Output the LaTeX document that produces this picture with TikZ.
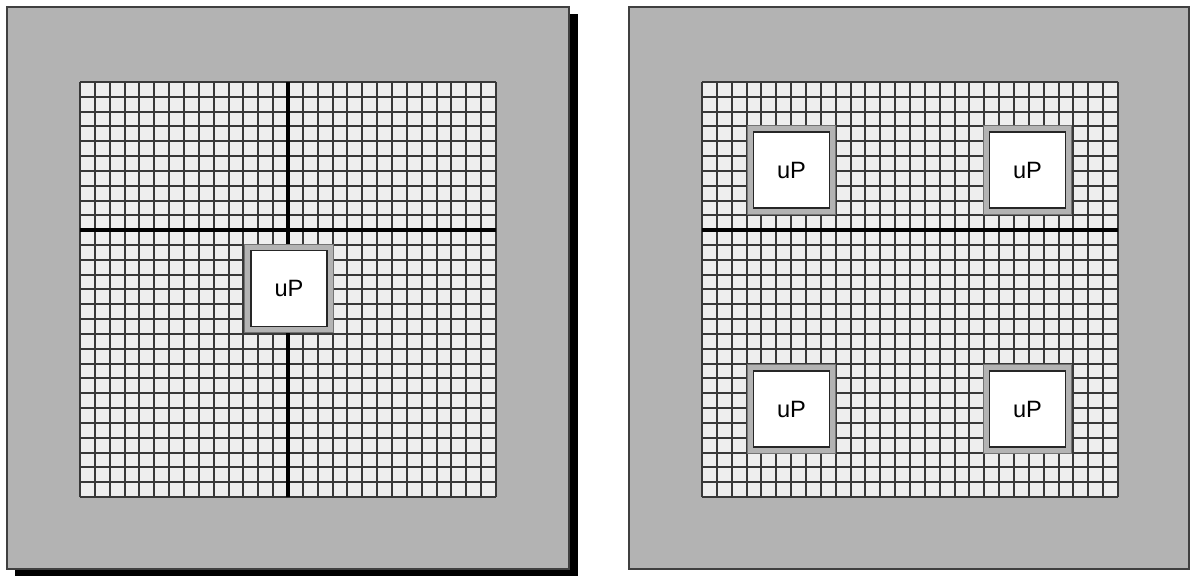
\documentclass[tikz,border=0pt]{standalone}
\usepackage{fontspec}
\setmainfont{Liberation Sans}
\usetikzlibrary{positioning}
\definecolor{panelgray}{HTML}{B3B3B3}
\definecolor{cellgray}{HTML}{EEEEEE}

\begin{document}
\begin{tikzpicture}[
        x=0.025cm,
        y=-0.025cm,
        panel/.style={draw=black!75, line width=1pt, fill=panelgray},
        gridline/.style={draw=black!78, line width=1pt},
        bus/.style={draw=black, line width=2.6pt},
        chip/.style={draw=black!85, line width=0.9pt, fill=white, minimum size=1.9cm, inner sep=0pt,
            font=\fontsize{16.8}{20}\selectfont,
            preaction={draw=black!55, line width=9.4pt},
            preaction={draw=panelgray, line width=8pt}}
    ]
        \useasboundingbox (0,0) rectangle (1195,576);

        % drop shadow and the two boards
        \fill[black] (15,14) rectangle (578,580);
        \path[panel] (7,7) rectangle (569,569);
        \path[panel] (629,7) rectangle (1189,569);

        % cell grids, 28 x 28
        \foreach \gx in {80,702}{
            \fill[cellgray] (\gx,82) rectangle ++(416,415);
            \foreach \i in {0,...,28}{
                \pgfmathsetmacro\dx{round(\i*14.857)}
                \pgfmathsetmacro\dy{round(\i*14.82)}
                \draw[gridline] (\gx+\dx,82) -- ++(0,415);
                \draw[gridline] (\gx,82+\dy) -- ++(416,0);
            }
        }

        % buses
        \coordinate (lW) at (80,230);
        \coordinate (lE) at (496,230);
        \coordinate (lN) at (288,82);
        \coordinate (lS) at (288,497);
        \coordinate (rW) at (702,230);
        \coordinate (rE) at (1118,230);
        \draw[bus] (lW) -- (lE);
        \draw[bus] (lN) -- (lS);
        \draw[bus] (rW) -- (rE);

        % processors
        \node[chip] (up) at (289,288.5) {uP};
        \node[chip] (upNW) at (791.5,170) {uP};
        \node[chip] (upNE) at (1027.5,170) {uP};
        \node[chip] (upSW) at (791.5,409) {uP};
        \node[chip] (upSE) at (1027.5,409) {uP};
    \end{tikzpicture}
\end{document}
